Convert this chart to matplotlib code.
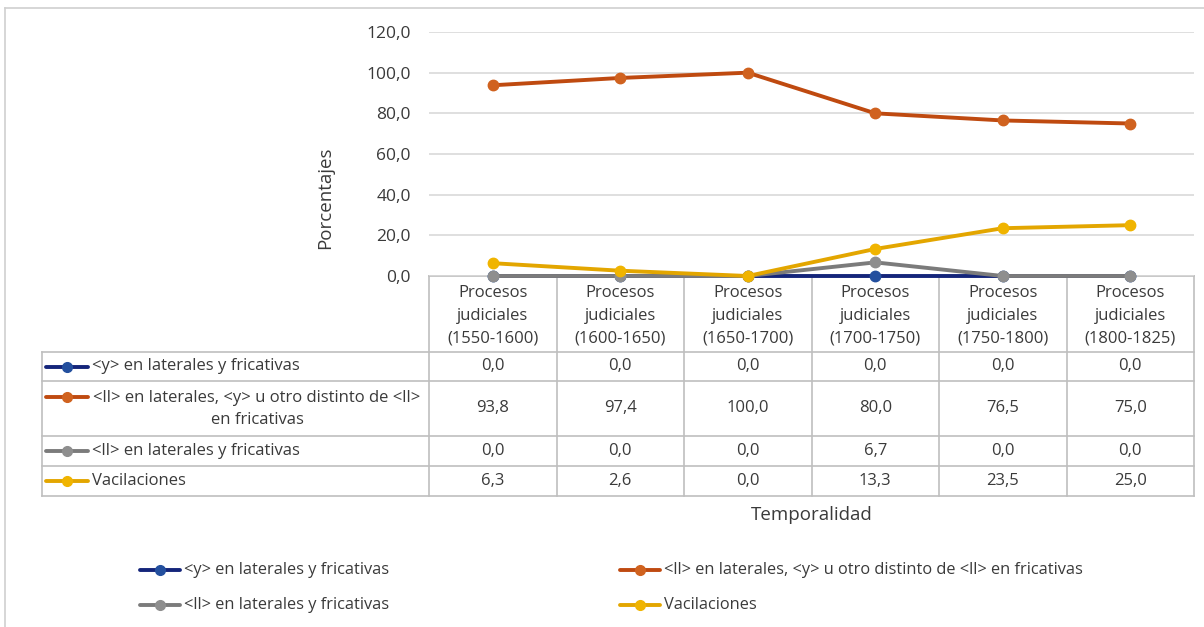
import matplotlib.pyplot as plt
from matplotlib.lines import Line2D

plt.rcParams['font.family'] = ['Open Sans', 'DejaVu Sans']

periodos = ["1550-1600", "1600-1650", "1650-1700", "1700-1750", "1750-1800", "1800-1825"]
categorias = ["Procesos\njudiciales\n(" + p + ")" for p in periodos]

nombres = [
    "<y> en laterales y fricativas",
    "<ll> en laterales, <y> u otro distinto de <ll> en fricativas",
    "<ll> en laterales y fricativas",
    "Vacilaciones",
]
nombres_tabla = [
    "<y> en laterales y fricativas",
    "<ll> en laterales, <y> u otro distinto de <ll>\nen fricativas",
    "<ll> en laterales y fricativas",
    "Vacilaciones",
]
y_lat_fric = [0.0, 0.0, 0.0, 0.0, 0.0, 0.0]
ll_lat_y_fric = [93.8, 97.4, 100.0, 80.0, 76.5, 75.0]
ll_lat_fric = [0.0, 0.0, 0.0, 6.7, 0.0, 0.0]
vacilaciones = [6.3, 2.6, 0.0, 13.3, 23.5, 25.0]
series = [y_lat_fric, ll_lat_y_fric, ll_lat_fric, vacilaciones]

colores_linea = ["#14257a", "#bf4a10", "#7b7b7b", "#e3a600"]
colores_marca = ["#234f9e", "#d0621f", "#8e8e8e", "#f0b400"]
texto = '#3a3a3a'
fs = 12

W, H = 1204, 627
fig = plt.figure(figsize=(W / 100, H / 100), dpi=100)

# overlay in pixel units for the frame, table and legend
ov = fig.add_axes([0, 0, 1, 1])
ov.set_xlim(0, W)
ov.set_ylim(H, 0)
ov.axis('off')

# plot area (pixels)
px_l, px_r, px_t, px_b = 429, 1194, 32, 276
ax = fig.add_axes([px_l / W, 1 - px_b / H, (px_r - px_l) / W, (px_b - px_t) / H])
ax.set_facecolor('none')

x = list(range(len(periodos)))
for vals, cl, cm in zip(series, colores_linea, colores_marca):
    ax.plot(x, vals, color=cl, lw=2.8, marker='o', ms=7.5, mfc=cm, mec=cm,
            solid_capstyle='round', clip_on=False, zorder=3)

ax.set_xlim(-0.5, len(periodos) - 0.5)
ax.set_ylim(0, 120)
ax.set_yticks(range(0, 121, 20))
ax.set_yticklabels([f"{v:.1f}".replace(".", ",") for v in range(0, 121, 20)], fontsize=12.5, color=texto)
ax.tick_params(axis='y', length=0, pad=13)
ax.set_xticks([])
ax.grid(axis='y', color='#d9d9d9', lw=1.2)
ax.set_axisbelow(True)
for s in ax.spines.values():
    s.set_visible(False)
ax.set_ylabel("Porcentajes", fontsize=13.5, color=texto)
ax.yaxis.set_label_coords((334 - px_l) / (px_r - px_l), (px_b - 198) / (px_b - px_t))

# outer frame
ov.plot([5, W], [8, 8], color='#d0d0d0', lw=1.2)
ov.plot([5, 5], [8, H], color='#d0d0d0', lw=1.2)

# data table
gris = '#bfbfbf'
col_w = (px_r - px_l) / len(periodos)
tab_l = 42
filas = [352, 381, 436, 466, 496]
ov.plot([px_l, px_r], [px_b, px_b], color=gris, lw=1.2)
for i in range(len(periodos) + 1):
    xc = px_l + i * col_w
    ov.plot([xc, xc], [px_b, filas[-1]], color=gris, lw=1.2)
for yf in filas:
    ov.plot([tab_l, px_r], [yf, yf], color=gris, lw=1.2)
ov.plot([tab_l, tab_l], [filas[0], filas[-1]], color=gris, lw=1.2)

for i, cat in enumerate(categorias):
    ov.text(px_l + (i + 0.5) * col_w, 316, cat, ha='center', va='center',
            fontsize=fs, color=texto, linespacing=1.55)

for r, (nom, vals) in enumerate(zip(nombres_tabla, series)):
    yc = (filas[r] + filas[r + 1]) / 2
    ky = yc if '\n' not in nom else filas[r] + 16
    ov.add_line(Line2D([46, 88], [ky, ky], color=colores_linea[r], lw=2.8, solid_capstyle='round'))
    ov.plot([67], [ky], 'o', ms=7, color=colores_marca[r])
    if '\n' in nom:
        ov.text(257, yc, nom, ha='center', va='center', fontsize=fs, color=texto,
                linespacing=1.5, multialignment='center')
    else:
        ov.text(92, yc, nom, ha='left', va='center', fontsize=fs, color=texto)
    for i, v in enumerate(vals):
        ov.text(px_l + (i + 0.5) * col_w, yc, f"{v:.1f}".replace(".", ","), ha='center',
                va='center', fontsize=fs, color=texto)

ov.text((px_l + px_r) / 2, 515, "Temporalidad", ha='center', va='center', fontsize=13.5, color=texto)

# legend below
pos_ley = [(140, 570), (620, 570), (140, 605), (620, 605)]
for (lx, ly), nom, cl, cm in zip(pos_ley, nombres, colores_linea, colores_marca):
    ov.add_line(Line2D([lx, lx + 40], [ly, ly], color=cl, lw=2.8, solid_capstyle='round'))
    ov.plot([lx + 20], [ly], 'o', ms=7, color=cm)
    ov.text(lx + 44, ly, nom, ha='left', va='center', fontsize=11.8, color=texto)

fig.savefig("out.png", dpi=100)
